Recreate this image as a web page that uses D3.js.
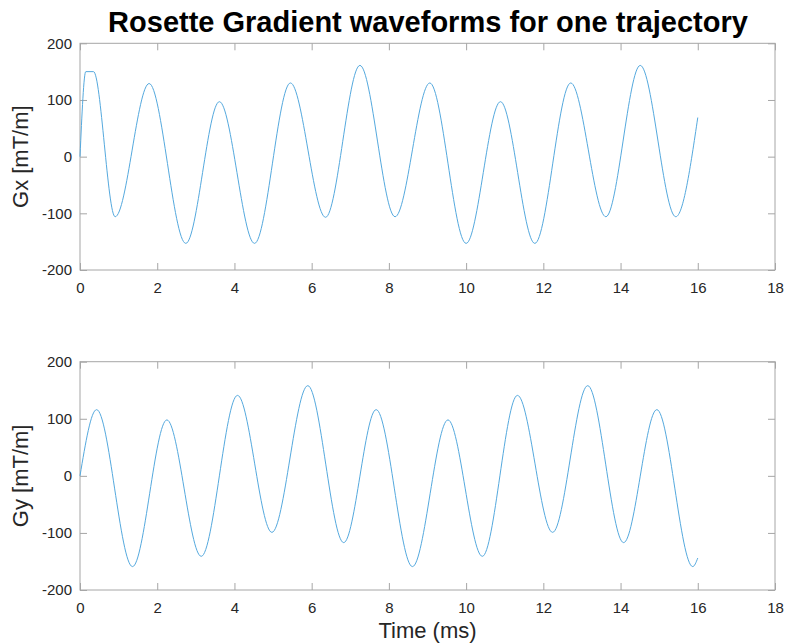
<!DOCTYPE html>
<html>
<head>
<meta charset="utf-8">
<script src="https://cdn.jsdelivr.net/npm/d3@7"></script>
<style>
  html, body { margin: 0; padding: 0; background: #fff; }
  svg { display: block; font-family: "Liberation Sans", Arial, Helvetica, sans-serif; }
</style>
</head>
<body>
<svg id="chart" width="786" height="644"></svg>
<script>
// Gradient waveform turning points (time in ms, amplitude in mT/m)
const gxTime  = [0, 0.15, 0.35, 0.91, 1.79, 2.74, 3.61, 4.52, 5.45, 6.36, 7.25, 8.16, 9.06, 10.0, 10.89, 11.78, 12.71, 13.62, 14.51, 15.43, 16.0];
const gxValue = [0, 150, 150, -106, 129, -153, 97, -153, 130, -107, 161, -106, 130, -153, 97, -153, 130, -106, 161, -106, 69];

const gyTime  = [0, 0.43, 1.36, 2.25, 3.14, 4.08, 4.97, 5.90, 6.83, 7.67, 8.61, 9.53, 10.42, 11.33, 12.24, 13.15, 14.08, 14.94, 15.87, 16.0];
const gyValue = [0, 116, -159, 98, -141, 141, -99, 158, -117, 116, -159, 98, -141, 141, -99, 158, -117, 116, -159, -144];

const xTicks = [0, 2, 4, 6, 8, 10, 12, 14, 16, 18];
const yTicks = [-200, -100, 0, 100, 200];

const titleText = "Rosette Gradient waveforms for one trajectory";
const xLabel = "Time (ms)";
const panels = [
  { label: "Gx [mT/m]", time: gxTime, value: gxValue, top: 43.3, bottom: 270 },
  { label: "Gy [mT/m]", time: gyTime, value: gyValue, top: 361.7, bottom: 590 }
];

const svg = d3.select("#chart");
const left = 80, right = 775;
const lineColor = "#55a9de";
const boxColor = "#a6a6a6";
const textColor = "#262626";
const plainNumber = d => String(d);

const x = d3.scaleLinear().domain([0, 18]).range([left, right]);

panels.forEach(p => {
  const y = d3.scaleLinear().domain([-200, 200]).range([p.bottom, p.top]);
  const g = svg.append("g");
  const h = p.bottom - p.top, w = right - left;
  const tickLen = 7;

  // bottom axis with labels, ticks pointing inward
  const xb = g.append("g").attr("transform", `translate(0,${p.bottom})`)
    .call(d3.axisBottom(x).tickValues(xTicks).tickFormat(plainNumber)
      .tickSizeInner(-tickLen).tickSizeOuter(0).tickPadding(12));
  // top axis, ticks only
  const xt = g.append("g").attr("transform", `translate(0,${p.top})`)
    .call(d3.axisTop(x).tickValues(xTicks).tickSizeInner(-tickLen).tickSizeOuter(0).tickFormat(""));
  // left axis with labels
  const yl = g.append("g").attr("transform", `translate(${left},0)`)
    .call(d3.axisLeft(y).tickValues(yTicks).tickFormat(plainNumber)
      .tickSizeInner(-tickLen).tickSizeOuter(0).tickPadding(8));
  // right axis, ticks only
  const yr = g.append("g").attr("transform", `translate(${right},0)`)
    .call(d3.axisRight(y).tickValues(yTicks).tickSizeInner(-tickLen).tickSizeOuter(0).tickFormat(""));

  [xb, xt, yl, yr].forEach(a => {
    a.select(".domain").remove();
    a.selectAll(".tick line").attr("stroke", boxColor).attr("stroke-width", 1);
    a.selectAll(".tick text").attr("fill", textColor).style("font-size", "15px")
      .style("font-family", "\"Liberation Sans\", Arial, sans-serif");
  });
  xb.selectAll(".tick text").attr("dy", "0.71em");

  // axes box
  g.append("rect").attr("x", left).attr("y", p.top).attr("width", w).attr("height", h)
    .attr("fill", "none").attr("stroke", boxColor).attr("stroke-width", 1);

  // y axis label
  g.append("text")
    .attr("transform", `translate(28,${(p.top + p.bottom) / 2}) rotate(-90)`)
    .attr("text-anchor", "middle")
    .attr("fill", textColor)
    .style("font-size", "22px")
    .text(p.label);

  // waveform
  const pts = p.time.map((t, i) => [t, p.value[i]]);
  const line = d3.line().x(d => x(d[0])).y(d => y(d[1])).curve(d3.curveMonotoneX);
  g.append("path").datum(pts)
    .attr("d", line)
    .attr("fill", "none")
    .attr("stroke", lineColor)
    .attr("stroke-width", 1);
});

// title
svg.append("text")
  .attr("x", (left + right) / 2 + 0.5).attr("y", 32)
  .attr("text-anchor", "middle")
  .attr("fill", "#000")
  .style("font-size", "29px").style("font-weight", "bold")
  .text(titleText);

// x axis label
svg.append("text")
  .attr("x", (left + right) / 2).attr("y", 638)
  .attr("text-anchor", "middle")
  .attr("fill", textColor)
  .style("font-size", "22px")
  .text(xLabel);
</script>
</body>
</html>
